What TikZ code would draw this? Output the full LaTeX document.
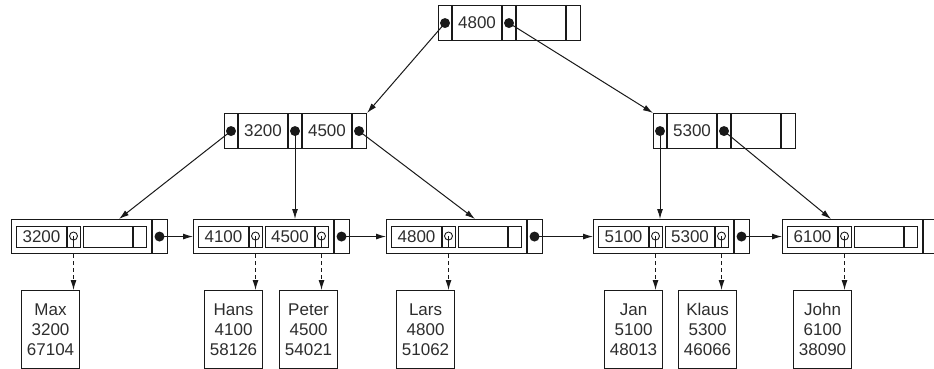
\documentclass[tikz,border=0pt]{standalone}
\usepackage{fontspec}
\setmainfont{Liberation Sans}
\usetikzlibrary{arrows.meta}
\definecolor{txtc}{RGB}{45,45,45}
\definecolor{lnc}{RGB}{25,25,25}
\tikzset{
  ln/.style={line width=1.1pt, draw=lnc},
  thinln/.style={line width=0.9pt, draw=lnc},
  box/.style={rectangle, ln, inner sep=0pt},
  dot/.style={circle, fill=lnc, inner sep=0pt, minimum size=10pt},
  hole/.style={circle, thinln, fill=white, inner sep=0pt, minimum size=8pt},
  arr/.style={line width=1pt, draw=lnc, -{Latex[length=10pt,width=6pt]}},
  darr/.style={arr, dash pattern=on 4pt off 3pt},
  txt/.style={inner sep=0pt, font=\fontsize{17}{20}\selectfont, text=txtc},
  rec/.style={box, minimum width=58pt, minimum height=78pt, anchor=north west,
              align=center, font=\fontsize{17}{20}\selectfont, text=txtc},
}
\newcommand\mkinner[5]{%
  \node[box, minimum width=142pt, minimum height=35pt, anchor=north west] (#1) at (#2,#3) {};
  \foreach \s in {14,64,78,128} \draw[ln] ([xshift=\s pt]#1.north west) -- ([xshift=\s pt]#1.south west);
  \node[dot] (#1-p1) at ([xshift=7pt]#1.west) {};
  \node[txt] (#1-k1) at ([xshift=39pt]#1.west) {#4};
  \node[dot] (#1-p2) at ([xshift=71pt]#1.west) {};
  \if\relax\detokenize{#5}\relax\else
    \node[txt] (#1-k2) at ([xshift=103pt]#1.west) {#5};
    \node[dot] (#1-p3) at ([xshift=135pt]#1.west) {};
  \fi
}
\newcommand\mkleaf[4]{%
  \node[box, minimum width=156pt, minimum height=34pt, anchor=north west] (#1) at (#2,219) {};
  \node[box, minimum width=64pt, minimum height=21pt, anchor=north west] (#1-e1) at ({#2+5},226) {};
  \node[box, minimum width=63pt, minimum height=21pt, anchor=north west] (#1-e2) at ({#2+72},226) {};
  \draw[ln] ([xshift=51pt]#1-e1.north west) -- ([xshift=51pt]#1-e1.south west);
  \draw[ln] ([xshift=50pt]#1-e2.north west) -- ([xshift=50pt]#1-e2.south west);
  \draw[ln] ([xshift=141pt]#1.north west) -- ([xshift=141pt]#1.south west);
  \node[txt] (#1-k1) at ([xshift=25.5pt]#1-e1.west) {#3};
  \node[hole] (#1-h1) at ([xshift=57.5pt,yshift=1pt]#1-e1.west) {};
  \draw[thinln] (#1-h1.center) -- (#1-h1.center |- #1-e1.south);
  \if\relax\detokenize{#4}\relax\else
    \node[txt] (#1-k2) at ([xshift=25pt]#1-e2.west) {#4};
    \node[hole] (#1-h2) at ([xshift=56.5pt,yshift=1pt]#1-e2.west) {};
    \draw[thinln] (#1-h2.center) -- (#1-h2.center |- #1-e2.south);
  \fi
}
\begin{document}
\begin{tikzpicture}[x=1pt,y=-1pt]
\useasboundingbox (0,0) rectangle (934,369);
\clip (0,0) rectangle (934,369);
% tree nodes
\mkinner{R}{438}{5}{4800}{}
\mkinner{N1}{224}{113}{3200}{4500}
\mkinner{N2}{653}{113}{5300}{}
% leaves
\mkleaf{A}{11}{3200}{}
\mkleaf{B}{193}{4100}{4500}
\mkleaf{C}{386}{4800}{}
\mkleaf{D}{593}{5100}{5300}
\mkleaf{E}{782}{6100}{}
\node[dot] (A-d) at ([xshift=148.5pt]A.west) {};
\node[dot] (B-d) at ([xshift=148.5pt]B.west) {};
\node[dot] (C-d) at ([xshift=148.5pt]C.west) {};
\node[dot] (D-d) at ([xshift=148.5pt]D.west) {};
% records
\node[rec] (rMax)   at (21,290)  {Max\\3200\\67104};
\node[rec] (rHans)  at (204,290) {Hans\\4100\\58126};
\node[rec] (rPeter) at (279,290) {Peter\\4500\\54021};
\node[rec] (rLars)  at (396,290) {Lars\\4800\\51062};
\node[rec] (rJan)   at (604,290) {Jan\\5100\\48013};
\node[rec] (rKlaus) at (678,290) {Klaus\\5300\\46066};
\node[rec] (rJohn)  at (793,290) {John\\6100\\38090};
% tree connectors
\coordinate (tA) at (119,219);
\coordinate (tC) at (475,219);
\coordinate (tE) at (831,219);
\draw[arr] (R-p1.center) -- (N1.north east);
\draw[arr] (R-p2.center) -- (N2.north west);
\draw[arr] (N1-p1.center) -- (tA);
\draw[arr] (N1-p2.center) -- (N1-p2.center |- B.north);
\draw[arr] (N1-p3.center) -- (tC);
\draw[arr] (N2-p1.center) -- (N2-p1.center |- D.north);
\draw[arr] (N2-p2.center) -- (tE);
% leaf chain
\draw[arr] (A-d.center) -- (B.west);
\draw[arr] (B-d.center) -- (C.west);
\draw[arr] (C-d.center) -- (D.west);
\draw[arr] (D-d.center) -- (E.west);
% record pointers
\draw[darr] (A-h1.center |- A.south) -- (A-h1.center |- rMax.north);
\draw[darr] (B-h1.center |- B.south) -- (B-h1.center |- rHans.north);
\draw[darr] (B-h2.center |- B.south) -- (B-h2.center |- rPeter.north);
\draw[darr] (C-h1.center |- C.south) -- (C-h1.center |- rLars.north);
\draw[darr] (D-h1.center |- D.south) -- (D-h1.center |- rJan.north);
\draw[darr] (D-h2.center |- D.south) -- (D-h2.center |- rKlaus.north);
\draw[darr] (E-h1.center |- E.south) -- (E-h1.center |- rJohn.north);
\end{tikzpicture}
\end{document}
